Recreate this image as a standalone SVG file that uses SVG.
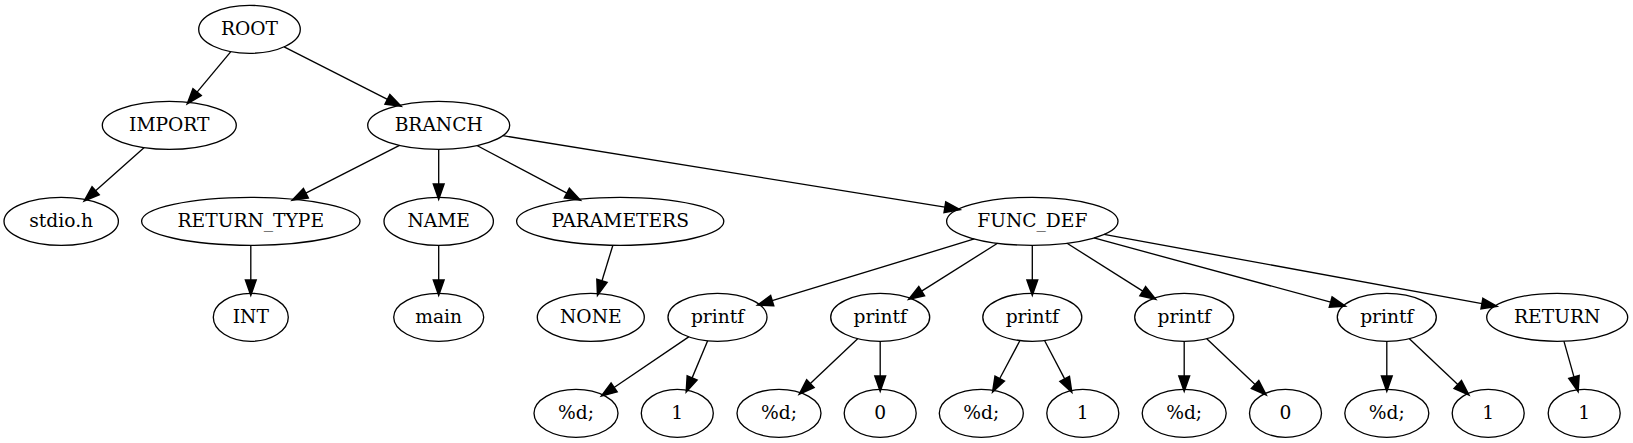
<svg xmlns="http://www.w3.org/2000/svg" width="1633" height="443" viewBox="0 0 1633 443">
<style>
.n ellipse{fill:none;stroke:#000;stroke-width:1.33}
.n text{font-family:"DejaVu Serif","Liberation Serif",serif;font-size:18.67px;text-anchor:middle;fill:#000}
#edges path{fill:none;stroke:#000;stroke-width:1.33;marker-end:url(#arr)}
</style>
<defs>
<marker id="arr" markerUnits="userSpaceOnUse" markerWidth="16" markerHeight="12" viewBox="0 -5 14 10" refX="0" refY="0" orient="auto" overflow="visible">
<path d="M0,-4.67 L13.33,0 L0,4.67 Z" fill="#000" stroke="#000" stroke-width="1.33"/>
</marker>
</defs>
<rect width="1633" height="443" fill="#fff"/>
<g id="edges">
<path d="M230.85,51.62 L197.06,92.08"/>
<path d="M284.12,46.86 L387.45,99.30"/>
<path d="M144.24,147.56 L95.60,190.75"/>
<path d="M399.52,145.32 L305.82,193.18"/>
<path d="M438.7,149.3 L438.7,183.97"/>
<path d="M476.93,145.52 L566.86,193.09"/>
<path d="M502.75,135.66 L944.93,207.17"/>
<path d="M250.8,245.3 L250.8,279.97"/>
<path d="M438.7,245.3 L438.7,279.97"/>
<path d="M612.87,245.24 L601.98,280.77"/>
<path d="M974.33,238.98 L772.15,300.63"/>
<path d="M997.54,243.24 L921.63,291.15"/>
<path d="M1032.3,245.3 L1032.3,279.97"/>
<path d="M1067.02,243.24 L1142.80,291.14"/>
<path d="M1093.91,237.98 L1330.71,302.12"/>
<path d="M1104.05,234.42 L1481.98,303.54"/>
<path d="M688.72,336.83 L614.09,387.46"/>
<path d="M707.65,340.82 L692.13,377.88"/>
<path d="M857.67,338.67 L810.34,383.57"/>
<path d="M880.2,341.3 L880.2,375.97"/>
<path d="M1019.95,340.54 L999.75,378.56"/>
<path d="M1044.53,340.55 L1064.68,378.85"/>
<path d="M1184.2,341.3 L1184.2,375.97"/>
<path d="M1206.75,338.67 L1255.11,384.50"/>
<path d="M1386.8,341.3 L1386.8,375.97"/>
<path d="M1409.37,338.67 L1457.80,384.50"/>
<path d="M1563.92,341.19 L1573.96,376.88"/>
</g>
<g id="root" class="n"><ellipse cx="249.5" cy="29.3" rx="50.8" ry="24"/><text x="249.5" y="34.8">ROOT</text></g>
<g id="import" class="n"><ellipse cx="169.3" cy="125.3" rx="67" ry="24"/><text x="169.3" y="130.8">IMPORT</text></g>
<g id="branch" class="n"><ellipse cx="438.7" cy="125.3" rx="71" ry="24"/><text x="438.7" y="130.8">BRANCH</text></g>
<g id="stdio" class="n"><ellipse cx="61.2" cy="221.3" rx="57.2" ry="24"/><text x="61.2" y="226.8">stdio.h</text></g>
<g id="return_type" class="n"><ellipse cx="250.8" cy="221.3" rx="109.2" ry="24"/><text x="250.8" y="226.8">RETURN_TYPE</text></g>
<g id="name" class="n"><ellipse cx="438.7" cy="221.3" rx="54.7" ry="24"/><text x="438.7" y="226.8">NAME</text></g>
<g id="parameters" class="n"><ellipse cx="620.2" cy="221.3" rx="103.6" ry="24"/><text x="620.2" y="226.8">PARAMETERS</text></g>
<g id="func_def" class="n"><ellipse cx="1032.3" cy="221.3" rx="85.7" ry="24"/><text x="1032.3" y="226.8">FUNC_DEF</text></g>
<g id="int" class="n"><ellipse cx="250.8" cy="317.3" rx="37.5" ry="24"/><text x="250.8" y="322.8">INT</text></g>
<g id="main" class="n"><ellipse cx="438.7" cy="317.3" rx="45" ry="24"/><text x="438.7" y="322.8">main</text></g>
<g id="none" class="n"><ellipse cx="590.8" cy="317.3" rx="53.5" ry="24"/><text x="590.8" y="322.8">NONE</text></g>
<g id="printf1" class="n"><ellipse cx="717.5" cy="317.3" rx="49.5" ry="24"/><text x="717.5" y="322.8">printf</text></g>
<g id="printf2" class="n"><ellipse cx="880.2" cy="317.3" rx="49.5" ry="24"/><text x="880.2" y="322.8">printf</text></g>
<g id="printf3" class="n"><ellipse cx="1032.3" cy="317.3" rx="49.5" ry="24"/><text x="1032.3" y="322.8">printf</text></g>
<g id="printf4" class="n"><ellipse cx="1184.2" cy="317.3" rx="49.5" ry="24"/><text x="1184.2" y="322.8">printf</text></g>
<g id="printf5" class="n"><ellipse cx="1386.8" cy="317.3" rx="49.5" ry="24"/><text x="1386.8" y="322.8">printf</text></g>
<g id="return" class="n"><ellipse cx="1557.2" cy="317.3" rx="70.5" ry="24"/><text x="1557.2" y="322.8">RETURN</text></g>
<g id="fmt1" class="n"><ellipse cx="576" cy="413.3" rx="42" ry="24"/><text x="576" y="418.8">%d;</text></g>
<g id="arg1" class="n"><ellipse cx="677.3" cy="413.3" rx="36" ry="24"/><text x="677.3" y="418.8">1</text></g>
<g id="fmt2" class="n"><ellipse cx="779" cy="413.3" rx="42" ry="24"/><text x="779" y="418.8">%d;</text></g>
<g id="arg2" class="n"><ellipse cx="880.2" cy="413.3" rx="36" ry="24"/><text x="880.2" y="418.8">0</text></g>
<g id="fmt3" class="n"><ellipse cx="981.3" cy="413.3" rx="42" ry="24"/><text x="981.3" y="418.8">%d;</text></g>
<g id="arg3" class="n"><ellipse cx="1082.8" cy="413.3" rx="36" ry="24"/><text x="1082.8" y="418.8">1</text></g>
<g id="fmt4" class="n"><ellipse cx="1184.2" cy="413.3" rx="42" ry="24"/><text x="1184.2" y="418.8">%d;</text></g>
<g id="arg4" class="n"><ellipse cx="1285.5" cy="413.3" rx="36" ry="24"/><text x="1285.5" y="418.8">0</text></g>
<g id="fmt5" class="n"><ellipse cx="1386.8" cy="413.3" rx="42" ry="24"/><text x="1386.8" y="418.8">%d;</text></g>
<g id="arg5" class="n"><ellipse cx="1488.2" cy="413.3" rx="36" ry="24"/><text x="1488.2" y="418.8">1</text></g>
<g id="retval" class="n"><ellipse cx="1584.2" cy="413.3" rx="36" ry="24"/><text x="1584.2" y="418.8">1</text></g>
</svg>
